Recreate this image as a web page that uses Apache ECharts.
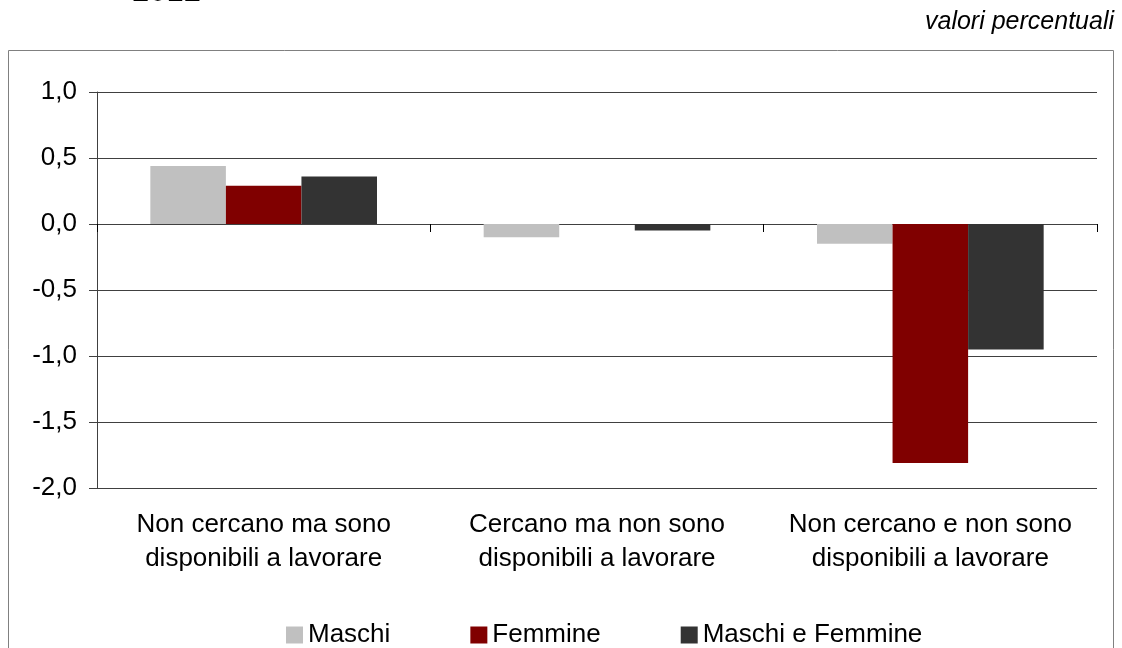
<!DOCTYPE html>
<html>
<head>
<meta charset="utf-8">
<script src="https://cdn.jsdelivr.net/npm/echarts@6/dist/echarts.min.js"></script>
<style>
  html, body { margin: 0; padding: 0; background: #fff; }
  #main { width: 1122px; height: 648px; }
</style>
</head>
<body>
<div id="main"></div>
<script>
// dati (valori percentuali)
var categories = ['Non cercano ma sono\ndisponibili a lavorare', 'Cercano ma non sono\ndisponibili a lavorare', 'Non cercano e non sono\ndisponibili a lavorare'];
var maschi = [0.44, -0.10, -0.15];
var femmine = [0.29, 0.00, -1.81];
var maschiFemmine = [0.36, -0.05, -0.95];
var seriesNames = ['Maschi', 'Femmine', 'Maschi e Femmine'];
var colors = ['#c0c0c0', '#800000', '#333333'];

var font = '"Liberation Sans", Arial, sans-serif';
var chart = echarts.init(document.getElementById('main'));

var option = {
    animation: false,
    backgroundColor: '#fff',
    color: colors,
    textStyle: { fontFamily: font },
    graphic: [
        { type: 'rect', shape: { x: 8.5, y: 50.5, width: 1105, height: 700 },
          style: { fill: 'none', stroke: '#808080', lineWidth: 1 } },
        { type: 'text', x: 132, y: 8,
          style: { text: '2012', font: '31px ' + font, fill: '#000', verticalAlign: 'bottom' } },
        { type: 'text', right: 8, top: 10,
          style: { text: 'valori percentuali', font: 'italic 25px ' + font, fill: '#000' } }
    ],
    legend: {
        left: 281,
        top: 617,
        itemWidth: 17,
        itemHeight: 17,
        itemGap: 80,
        icon: 'rect',
        textStyle: { fontSize: 26, color: '#000' },
        data: seriesNames
    },
    grid: { left: 97, right: 25, top: 92, bottom: 160 },
    xAxis: [{
        type: 'category',
        data: categories,
        axisLine: { show: false, onZero: false },
        axisTick: { show: false },
        axisLabel: { fontSize: 26, color: '#000', lineHeight: 34, margin: 20, interval: 0 }
    }, {
        type: 'category',
        data: categories,
        position: 'bottom',
        axisLine: { onZero: true, lineStyle: { color: '#404040', width: 1 } },
        axisTick: { show: true, length: 8, lineStyle: { color: '#000' } },
        axisLabel: { show: false }
    }],
    yAxis: {
        type: 'value',
        min: -2,
        max: 1,
        interval: 0.5,
        axisLine: { show: true, lineStyle: { color: '#404040' } },
        axisTick: { show: true, length: 8, lineStyle: { color: '#404040' } },
        axisLabel: {
            fontSize: 26, color: '#000', margin: 20,
            formatter: function (v) { return v.toFixed(1).replace('.', ','); }
        },
        splitLine: { lineStyle: { color: '#404040', width: 1 } }
    },
    series: [
        { name: seriesNames[0], type: 'bar', data: maschi, barGap: '0%', barCategoryGap: '32%' },
        { name: seriesNames[1], type: 'bar', data: femmine, barGap: '0%', barCategoryGap: '32%' },
        { name: seriesNames[2], type: 'bar', data: maschiFemmine, barGap: '0%', barCategoryGap: '32%' }
    ]
};

chart.setOption(option);
</script>
</body>
</html>
